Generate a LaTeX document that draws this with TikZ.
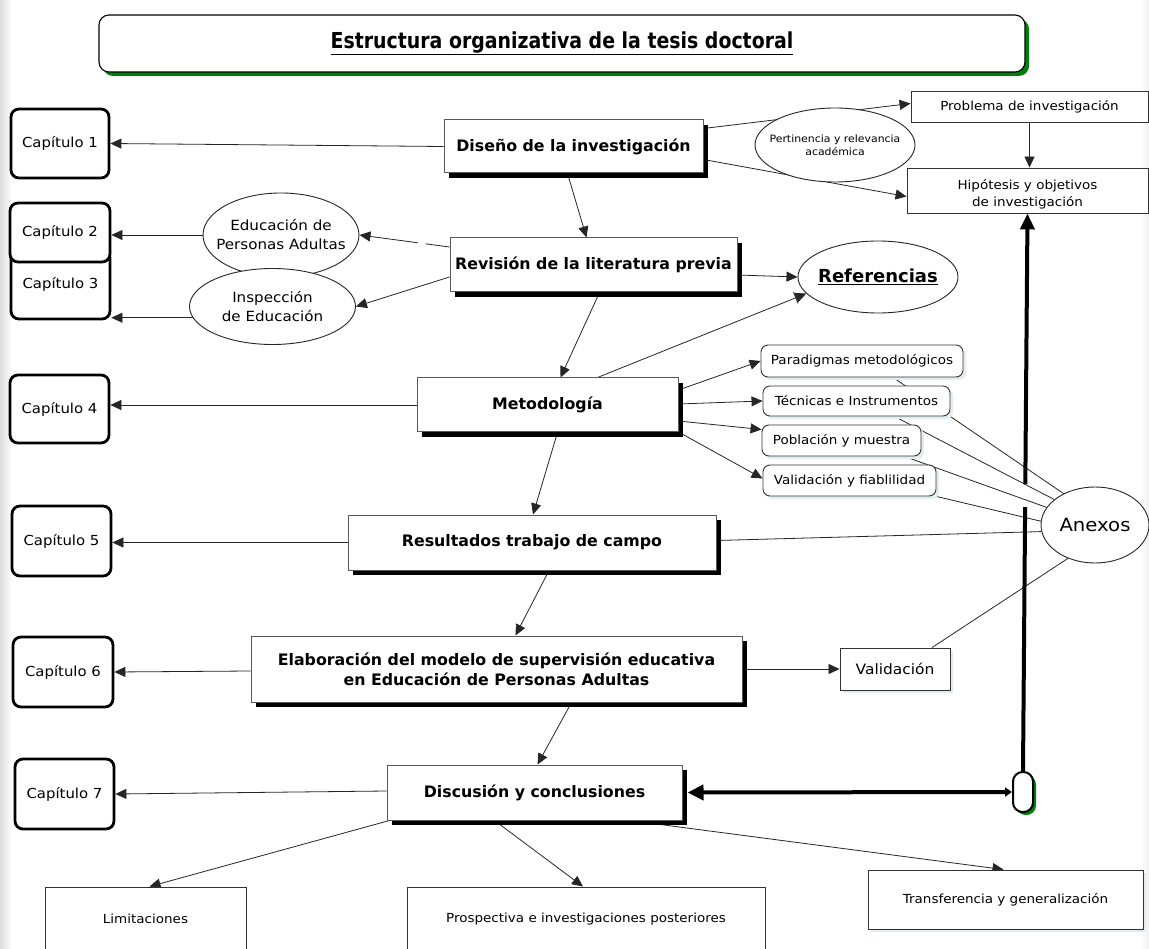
\documentclass[tikz,border=0pt]{standalone}
\usepackage{fontspec}
\setmainfont{DejaVu Sans}
\newfontfamily\wfont{DejaVu Sans}[FakeStretch=1.08]
\newfontfamily\tfont{DejaVu Sans}[FakeStretch=0.86]
\usetikzlibrary{arrows.meta,shapes.geometric,shadows,calc}
\pgfdeclarelayer{bgfill}
\pgfdeclarelayer{back}
\pgfsetlayers{bgfill,back,main}
\definecolor{paleshadow}{HTML}{E3ECF0}
\definecolor{titlegreen}{HTML}{00800A}

\tikzset{
  every node/.style={inner sep=0pt, align=center},
  titlebox/.style={draw, line width=1.1pt, rounded corners=10pt, fill=white,
    font=\tfont\fontsize{22}{26}\selectfont\bfseries,
    drop shadow={shadow xshift=4pt, shadow yshift=-4pt, fill=titlegreen, opacity=1}},
  chapbox/.style={draw, line width=2.8pt, rounded corners=8pt, fill=white,
    font=\wfont\fontsize{13.8}{17}\selectfont},
  mainbox/.style={draw=black!65, line width=1pt, fill=white,
    font=\fontsize{15.8}{20}\selectfont\bfseries,
    drop shadow={shadow xshift=5pt, shadow yshift=-5pt, fill=black, opacity=1}},
  plainbox/.style={draw=black!80, line width=0.9pt, fill=white,
    font=\wfont\fontsize{12.5}{17}\selectfont},
  subbox/.style={plainbox, rounded corners=7pt,
    drop shadow={shadow xshift=3pt, shadow yshift=-3pt, fill=paleshadow, opacity=1}},
  oval/.style={ellipse, draw=black!85, line width=0.9pt, fill=white, inner sep=-16pt,
    font=\wfont\fontsize{14}{19}\selectfont},
  link/.style={line width=0.8pt, draw=black!85},
  arr/.style={link, -{Triangle[length=11pt,width=10pt]}},
  heavy/.style={line width=4pt, draw=black},
}

\begin{document}
\begin{tikzpicture}[x=1pt, y=-1pt]
\useasboundingbox (0,0) rectangle (1149,949);

% page background with soft edges
\begin{pgfonlayer}{bgfill}
  \fill[white] (0,0) rectangle (1149,949);
  \shade[left color=black!13, right color=white] (0,0) rectangle (12,949);
  \shade[left color=white, right color=black!6] (1140,0) rectangle (1149,949);
\end{pgfonlayer}

% title
\node[titlebox, minimum width=926pt, minimum height=57pt] (title) at (562,43.5)
  {\underline{Estructura organizativa de la tesis doctoral}};

% chapters
\node[chapbox, minimum width=98pt, minimum height=69pt] (c1) at (60,143.5) {Capítulo 1};
\node[chapbox, minimum width=99pt, minimum height=69pt] (c3) at (60.5,284.5) {Capítulo 3};
\node[chapbox, minimum width=100pt, minimum height=59pt] (c2) at (60,232.5) {Capítulo 2};
\node[chapbox, minimum width=99pt, minimum height=68pt] (c4) at (59.5,409) {Capítulo 4};
\node[chapbox, minimum width=99pt, minimum height=70pt] (c5) at (61.5,541) {Capítulo 5};
\node[chapbox, minimum width=100pt, minimum height=70pt] (c6) at (63,672) {Capítulo 6};
\node[chapbox, minimum width=99pt, minimum height=70pt] (c7) at (64.5,794) {Capítulo 7};

% main sequence
\node[mainbox, minimum width=259pt, minimum height=53pt] (dis) at (573.5,146.5) {Diseño de la investigación};
\node[mainbox, minimum width=287pt, minimum height=54pt] (rev) at (593.5,265) {Revisión de la literatura previa};
\node[mainbox, minimum width=261pt, minimum height=54pt] (met) at (547.5,405) {Metodología};
\node[mainbox, minimum width=368pt, minimum height=55pt] (res) at (532,542.5) {Resultados trabajo de campo};
\node[mainbox, minimum width=491pt, minimum height=66pt] (ela) at (496.5,669)
  {Elaboración del modelo de supervisión educativa\\en Educación de Personas Adultas};
\node[mainbox, minimum width=295pt, minimum height=55pt] (disc) at (534.5,792.5) {Discusión y conclusiones};

% research design branch
\node[plainbox, minimum width=237pt, minimum height=31pt] (prob) at (1029.5,106.5) {Problema de investigación};
\node[plainbox, minimum width=241pt, minimum height=45pt, text height=35.5pt] (hip) at (1027.5,190.5) {Hipótesis y objetivos\\ de investigación};

% literature branch
\node[oval, minimum width=156pt, minimum height=84pt] (edu) at (281,235) {Educación de\\Personas Adultas};
\node[oval, minimum width=166pt, minimum height=76pt] (insp) at (272.5,306.5) {Inspección\\de Educación};
\node[oval, minimum width=160pt, minimum height=72pt, font=\fontsize{18}{20}\selectfont\bfseries] (ref) at (878,277) {\underline{Referencias}};

% methodology branch
\node[subbox, minimum width=202pt, minimum height=32pt] (par) at (862,361) {Paradigmas metodológicos};
\node[subbox, minimum width=187pt, minimum height=30pt] (tec) at (856.5,401) {Técnicas e Instrumentos};
\node[subbox, minimum width=159pt, minimum height=31pt] (pob) at (841.5,440.5) {Población y muestra};
\node[subbox, minimum width=173pt, minimum height=31pt] (val) at (849.5,480.5) {Validación y fiablilidad};

\node[oval, minimum width=108pt, minimum height=76pt, font=\wfont\fontsize{18.2}{20}\selectfont] (anx) at (1095,525) {Anexos};
\node[plainbox, minimum width=110pt, minimum height=42pt, font=\wfont\fontsize{14.3}{17}\selectfont,
  drop shadow={shadow xshift=3pt, shadow yshift=-3pt, fill=paleshadow, opacity=1}] (vald) at (895,669) {Validación};

\node[draw, line width=2pt, rounded corners=9.5pt, fill=white, minimum width=20pt, minimum height=40pt,
  drop shadow={shadow xshift=3pt, shadow yshift=-3pt, fill=titlegreen, opacity=1}] (pill) at (1023,792) {};

% outcomes
\node[plainbox, minimum width=201pt, minimum height=64pt] (lim) at (145.5,919) {Limitaciones};
\node[plainbox, minimum width=358pt, minimum height=64pt] (pros) at (586,919) {Prospectiva e investigaciones posteriores};
\node[plainbox, minimum width=275pt, minimum height=59pt,
  drop shadow={shadow xshift=3pt, shadow yshift=-3pt, fill=paleshadow, opacity=1}] (tra) at (1005.5,899.5) {Transferencia y generalización};

% connectors, kept beneath the shapes
\begin{pgfonlayer}{back}
  \draw[arr] (dis.west) -- (c1.east);
  \draw[arr] ([yshift=18pt]dis.east) -- ([yshift=3pt]prob.west);
  \draw[arr] ([yshift=-13pt]dis.east) -- ([yshift=-6pt]hip.west);
  \draw[arr] (prob.south) -- (prob.south |- hip.north);
  \draw[arr] ([xshift=-6pt]dis.south) -- ([xshift=-7pt]rev.north);

  \draw[arr, dash pattern=on 24pt off 8pt on 200pt] ([yshift=18pt]rev.west) -- (edu.east);
  \draw[arr] ([yshift=-12pt]rev.west) -- (insp.east);
  \draw[arr] (edu.west) -- (edu.west -| c2.east);
  \draw[arr] (insp.188) -- (insp.188 -| c3.east);
  \draw[arr] ([yshift=-10pt]rev.east) -- (ref.west);
  \draw[link, -{Bar[width=12pt,line width=0.8pt]Triangle[length=11pt,width=10pt]}]
    ([xshift=50pt]met.north) -- (ref.193);
  \draw[arr] ([xshift=6pt]rev.south) -- ([xshift=13pt]met.north);

  \draw[arr] (met.west) -- (met.west -| c4.east);
  \draw[arr] ([yshift=15pt]met.east) -- (par.west);
  \draw[arr] ([yshift=1pt]met.east) -- (tec.west);
  \draw[arr] ([yshift=-16pt]met.east) -- ([yshift=11pt]pob.west);
  \draw[arr] ([yshift=-27pt]met.east) -- ([yshift=2pt]val.west);
  \draw[arr] ([xshift=10pt]met.south) -- ([xshift=1pt]res.north);

  \draw[arr] (res.west) -- (res.west -| c5.east);
  \draw[arr] ([xshift=17pt]res.south) -- ([xshift=19pt]ela.north);
  \draw[arr] ([yshift=-2pt]ela.west) -- (c6.east);
  \draw[arr] (ela.east) -- (vald.west);
  \draw[arr] ([xshift=75pt]ela.south) -- ([xshift=3pt]disc.north);
  \draw[arr] ([yshift=1.5pt]disc.west) -- (c7.east);

  \draw[arr] ([xshift=3pt]disc.south west) -- ([xshift=4pt]lim.north);
  \draw[arr] ([xshift=-40pt]disc.south) -- ([xshift=-3pt]pros.north);
  \draw[arr] ([xshift=95pt]disc.south) -- ([xshift=-2pt]tra.north);

  % annex links
  \draw[link] ([xshift=31pt]par.south) -- (anx.135);
  \draw[link] ([xshift=38pt]tec.south) -- (anx.148);
  \draw[link] ([xshift=63pt]pob.south) -- (anx.160);
  \draw[link] (val.south east) -- (anx.176);
  \draw[link] ([yshift=2pt]res.east) -- (anx.187);
  \draw[link] ([xshift=37pt]vald.north) -- (anx.231);

  % feedback loop: the upward stroke is broken where it passes the annex links
  \draw[heavy] (pill.north) -- ($(pill.north)!264pt!(hip.south)$);
  \draw[heavy, -{Triangle[length=16pt,width=14pt]}]
    ($(pill.north)!287pt!(hip.south)$) -- (hip.south);
  \draw[heavy, {Triangle[length=7pt,width=9pt]}-{Triangle[length=16pt,width=15pt]}]
    (pill.west) -- ([xshift=5pt]disc.east);
\end{pgfonlayer}

% relevance oval sits over the two design links
\node[oval, minimum width=160pt, minimum height=74pt, font=\wfont\fontsize{10.1}{13}\selectfont] (pert) at (835,145)
  {Pertinencia y relevancia\\académica};
\end{tikzpicture}
\end{document}
